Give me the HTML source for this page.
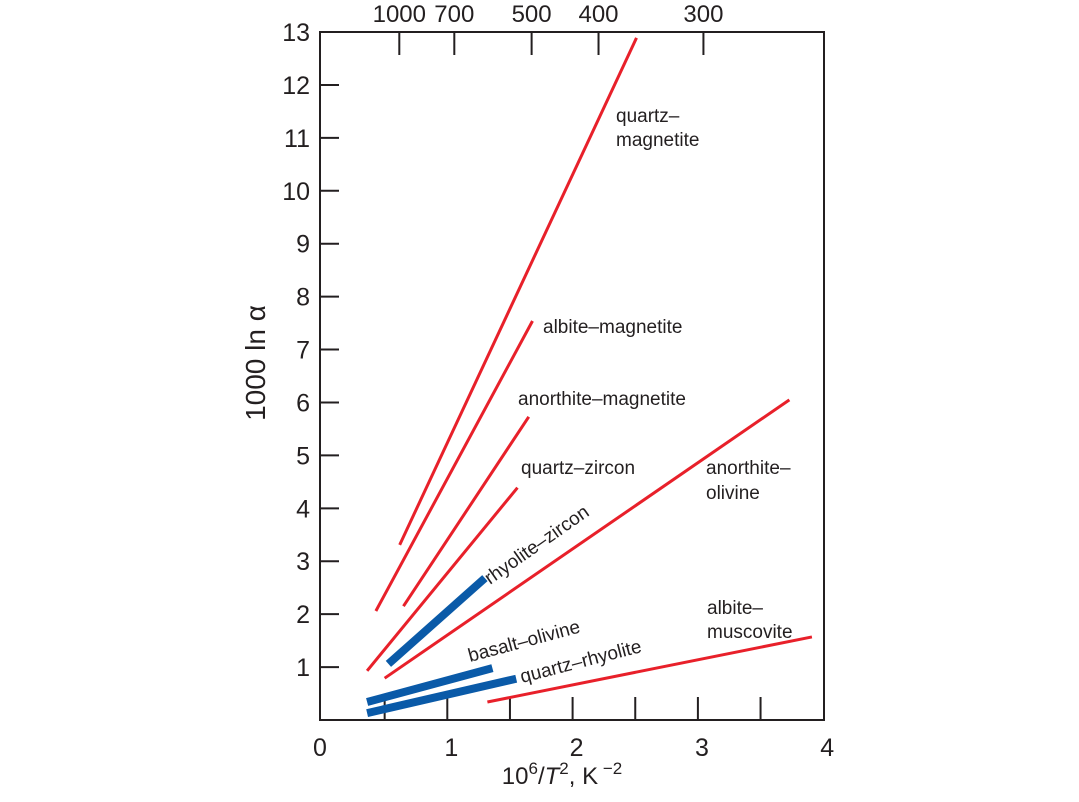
<!DOCTYPE html>
<html><head><meta charset="utf-8"><style>
body{margin:0;background:#fff;}
svg{display:block;font-family:"Liberation Sans",sans-serif;}
</style></head><body>
<svg id="chart" width="1079" height="802" viewBox="0 0 1079 802" xmlns="http://www.w3.org/2000/svg">
<rect x="320" y="32" width="504" height="688" fill="none" stroke="#231f20" stroke-width="2"/>
<g id="axes"></g>
<g id="series"></g>
<g id="labels" font-size="19" fill="#231f20">
<text x="616" y="122">quartz–</text>
<text x="616" y="146">magnetite</text>
<text x="543" y="333">albite–magnetite</text>
<text x="518" y="405">anorthite–magnetite</text>
<text x="521" y="474">quartz–zircon</text>
<text x="706" y="474">anorthite–</text>
<text x="706" y="499">olivine</text>
<text x="707" y="614">albite–</text>
<text x="707" y="638">muscovite</text>
<text x="490" y="585" transform="rotate(-35 490 585)">rhyolite–zircon</text>
<text x="470" y="662" transform="rotate(-15 470 662)">basalt–olivine</text>
<text x="522" y="683" transform="rotate(-14.5 522 683)">quartz–rhyolite</text>
</g>
<text x="562" y="784" font-size="24" text-anchor="middle" fill="#231f20">10<tspan dy="-10" font-size="17">6</tspan><tspan dy="10">/</tspan><tspan font-style="italic">T</tspan><tspan dy="-10" font-size="17">2</tspan><tspan dy="10">, K</tspan><tspan dy="-10" font-size="17"> −2</tspan></text>
<text x="265" y="363" font-size="28" text-anchor="middle" fill="#231f20" transform="rotate(-90 265 363)">1000 ln α</text>
</svg>
<script>
const xTicks=[0,1,2,3,4];
const xMinor=[0.5,1.5,2.5,3.5];
const yTicks=[1,2,3,4,5,6,7,8,9,10,11,12,13];
const topTempsC=[1000,700,500,400,300];
const seriesNames=["quartz-magnetite","albite-magnetite","anorthite-magnetite","quartz-zircon","anorthite-olivine","albite-muscovite","rhyolite-zircon","basalt-olivine","quartz-rhyolite"];
const seriesX0=[0.62,0.43,0.65,0.36,0.50,1.32,0.53,0.36,0.36];
const seriesY0=[3.31,2.06,2.15,0.93,0.79,0.34,1.06,0.34,0.13];
const seriesX1=[2.51,1.68,1.65,1.56,3.73,3.91,1.30,1.36,1.55];
const seriesY1=[12.89,7.54,5.73,4.39,6.05,1.57,2.68,0.98,0.78];
const seriesKind=["red","red","red","red","red","red","blue","blue","blue"];
const NS="http://www.w3.org/2000/svg";
const xs=v=>322+v*125.3;
const ys=v=>720-v*52.92;
const ax=document.getElementById('axes');
function mk(tag,attrs,parent){const e=document.createElementNS(NS,tag);for(const k in attrs)e.setAttribute(k,attrs[k]);parent.appendChild(e);return e;}
xTicks.forEach(v=>{
  if(v>0&&v<4){const t=mk('line',{x1:xs(v),x2:xs(v),y1:720,y2:697,stroke:'#231f20','stroke-width':2},ax);
  
  }
  const l=mk('text',{x:xs(v)+(v==0?-2:4),y:756,'font-size':25,'text-anchor':'middle',fill:'#231f20'},ax);l.textContent=v;
  
  
});
xMinor.forEach(v=>{const t=mk('line',{x1:xs(v),x2:xs(v),y1:720,y2:697,stroke:'#231f20','stroke-width':2},ax);
  
  });
yTicks.forEach(v=>{
  if(v<13){const t=mk('line',{x1:320,x2:339,y1:ys(v),y2:ys(v),stroke:'#231f20','stroke-width':2},ax);
  
  }
  const l=mk('text',{x:310,y:ys(v)+9,'font-size':25,'text-anchor':'end',fill:'#231f20'},ax);l.textContent=v;
  
  
});
topTempsC.forEach(c=>{
  const k=c+273.15;const v=1e6/(k*k);
  const t=mk('line',{x1:xs(v),x2:xs(v),y1:32,y2:55,stroke:'#231f20','stroke-width':2},ax);
  
  
  const l=mk('text',{x:xs(v),y:22,'font-size':24,'text-anchor':'middle',fill:'#231f20'},ax);l.textContent=c;
  
  
});
const sg=document.getElementById('series');
seriesNames.forEach((n,i)=>{
  const blue=seriesKind[i]=='blue';
  const l=mk('line',{x1:xs(seriesX0[i]),y1:ys(seriesY0[i]),x2:xs(seriesX1[i]),y2:ys(seriesY1[i]),stroke:blue?'#0a5aa8':'#e8202a','stroke-width':blue?8:3},sg);
  
  
});
</script>
</body></html>
